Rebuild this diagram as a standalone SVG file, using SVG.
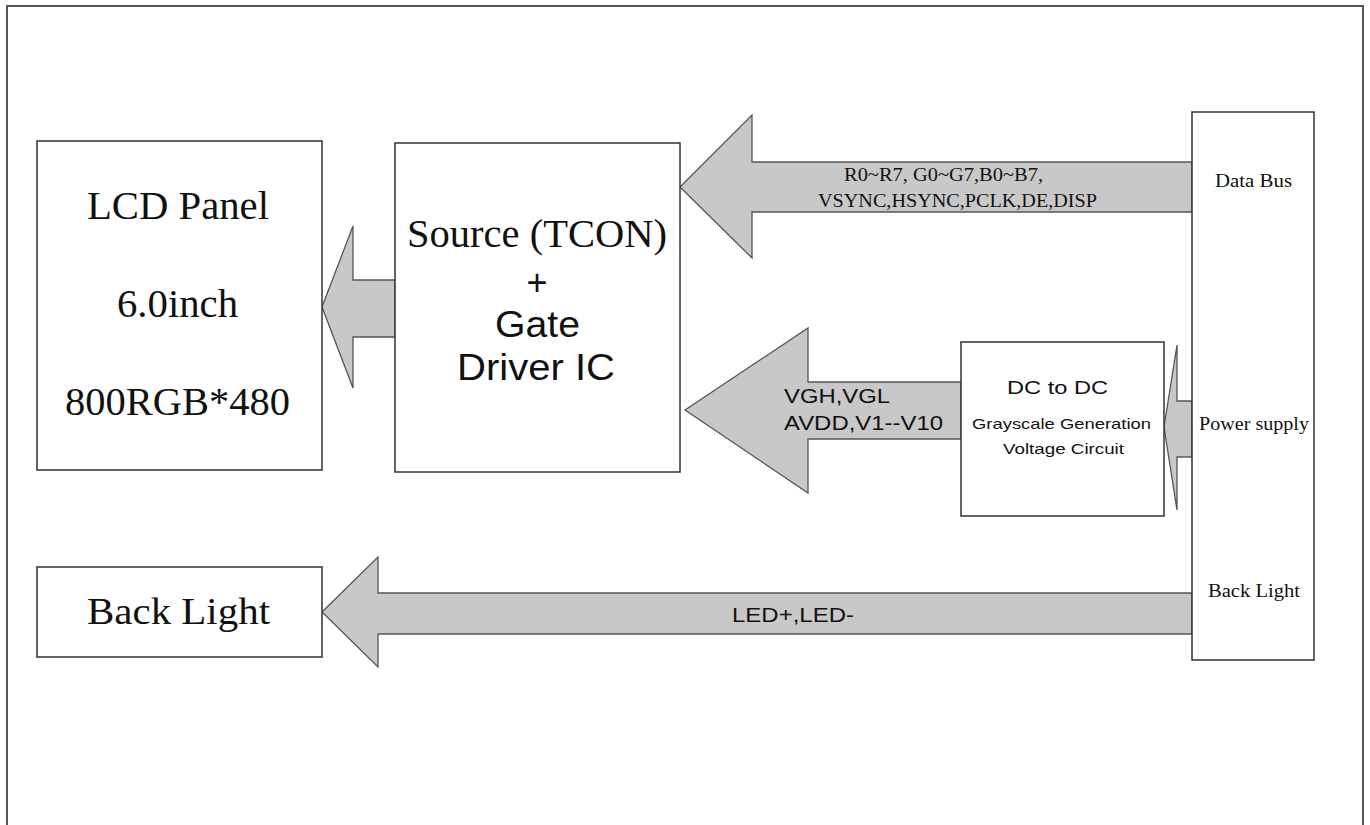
<svg xmlns="http://www.w3.org/2000/svg" width="1370" height="825" viewBox="0 0 1370 825">
<style>
.box{fill:#fff;stroke:#333;stroke-width:1.5}
.arr{fill:#c8c8c8;stroke:#555;stroke-width:1.3;stroke-linejoin:miter}
.serif{font-family:"Liberation Serif",serif;fill:#111}
.sans{font-family:"Liberation Sans",Arial,sans-serif;fill:#111}
text{lengthAdjust:spacingAndGlyphs}
</style>
<rect width="1370" height="825" fill="#fff"/>
<path d="M7,825 V6 H1363 V825" fill="none" stroke="#555" stroke-width="2"/>
<g id="connectors">
<polygon class="arr" points="680,187 752,115 752,162 1192,162 1192,212 752,212 752,258"/>
<polygon class="arr" points="685,410 808,328 808,382 961,382 961,439 808,439 808,493"/>
<polygon class="arr" points="1164,427 1177,345 1177,401 1192,401 1192,457 1177,457 1177,510"/>
<polygon class="arr" points="322,307 353,226 353,280 395,280 395,337 353,337 353,388"/>
<polygon class="arr" points="322,612 378,557 378,593 1192,593 1192,634 378,634 378,667"/>
</g>
<g id="lcd-panel">
<rect class="box" x="37" y="141" width="285" height="329"/>
<text class="serif" x="87" y="219" font-size="39" textLength="182" lengthAdjust="spacingAndGlyphs">LCD Panel</text>
<text class="serif" x="117" y="317" font-size="39" textLength="121" lengthAdjust="spacingAndGlyphs">6.0inch</text>
<text class="serif" x="65" y="415" font-size="39" textLength="225" lengthAdjust="spacingAndGlyphs">800RGB*480</text>
</g>
<g id="source-gate">
<rect class="box" x="395" y="143" width="285" height="329"/>
<text class="serif" x="407" y="247" font-size="39" textLength="260" lengthAdjust="spacingAndGlyphs">Source (TCON)</text>
<text class="sans" x="537" y="295" font-size="36" text-anchor="middle">+</text>
<text class="sans" x="495" y="337" font-size="36" textLength="85" lengthAdjust="spacingAndGlyphs">Gate</text>
<text class="sans" x="457" y="380" font-size="36" textLength="158" lengthAdjust="spacingAndGlyphs">Driver IC</text>
</g>
<g id="interface">
<rect class="box" x="1192" y="112" width="122" height="548"/>
<text class="serif" x="1215" y="187" font-size="19" textLength="77" lengthAdjust="spacingAndGlyphs">Data Bus</text>
<text class="serif" x="1199" y="430" font-size="19" textLength="110" lengthAdjust="spacingAndGlyphs">Power supply</text>
<text class="serif" x="1208" y="597" font-size="19" textLength="92" lengthAdjust="spacingAndGlyphs">Back Light</text>
</g>
<g id="dcdc">
<rect class="box" x="961" y="342" width="203" height="174"/>
<text class="sans" x="1007" y="394" font-size="18" textLength="101" lengthAdjust="spacingAndGlyphs">DC to DC</text>
<text class="sans" x="972" y="429" font-size="15" textLength="179" lengthAdjust="spacingAndGlyphs">Grayscale Generation</text>
<text class="sans" x="1003" y="454" font-size="15" textLength="121" lengthAdjust="spacingAndGlyphs">Voltage Circuit</text>
</g>
<g id="backlight">
<rect class="box" x="37" y="567" width="285" height="90"/>
<text class="serif" x="87" y="624" font-size="38" textLength="183" lengthAdjust="spacingAndGlyphs">Back Light</text>
</g>
<g id="labels">
<text class="serif" x="844" y="181" font-size="19" textLength="199" lengthAdjust="spacingAndGlyphs">R0~R7, G0~G7,B0~B7,</text>
<text class="serif" x="818" y="207" font-size="19" textLength="279" lengthAdjust="spacingAndGlyphs">VSYNC,HSYNC,PCLK,DE,DISP</text>
<text class="sans" x="784" y="403" font-size="21" textLength="106" lengthAdjust="spacingAndGlyphs">VGH,VGL</text>
<text class="sans" x="784" y="430" font-size="21" textLength="159" lengthAdjust="spacingAndGlyphs">AVDD,V1--V10</text>
<text class="sans" x="732" y="622" font-size="20" textLength="122" lengthAdjust="spacingAndGlyphs">LED+,LED-</text>
</g>
</svg>
